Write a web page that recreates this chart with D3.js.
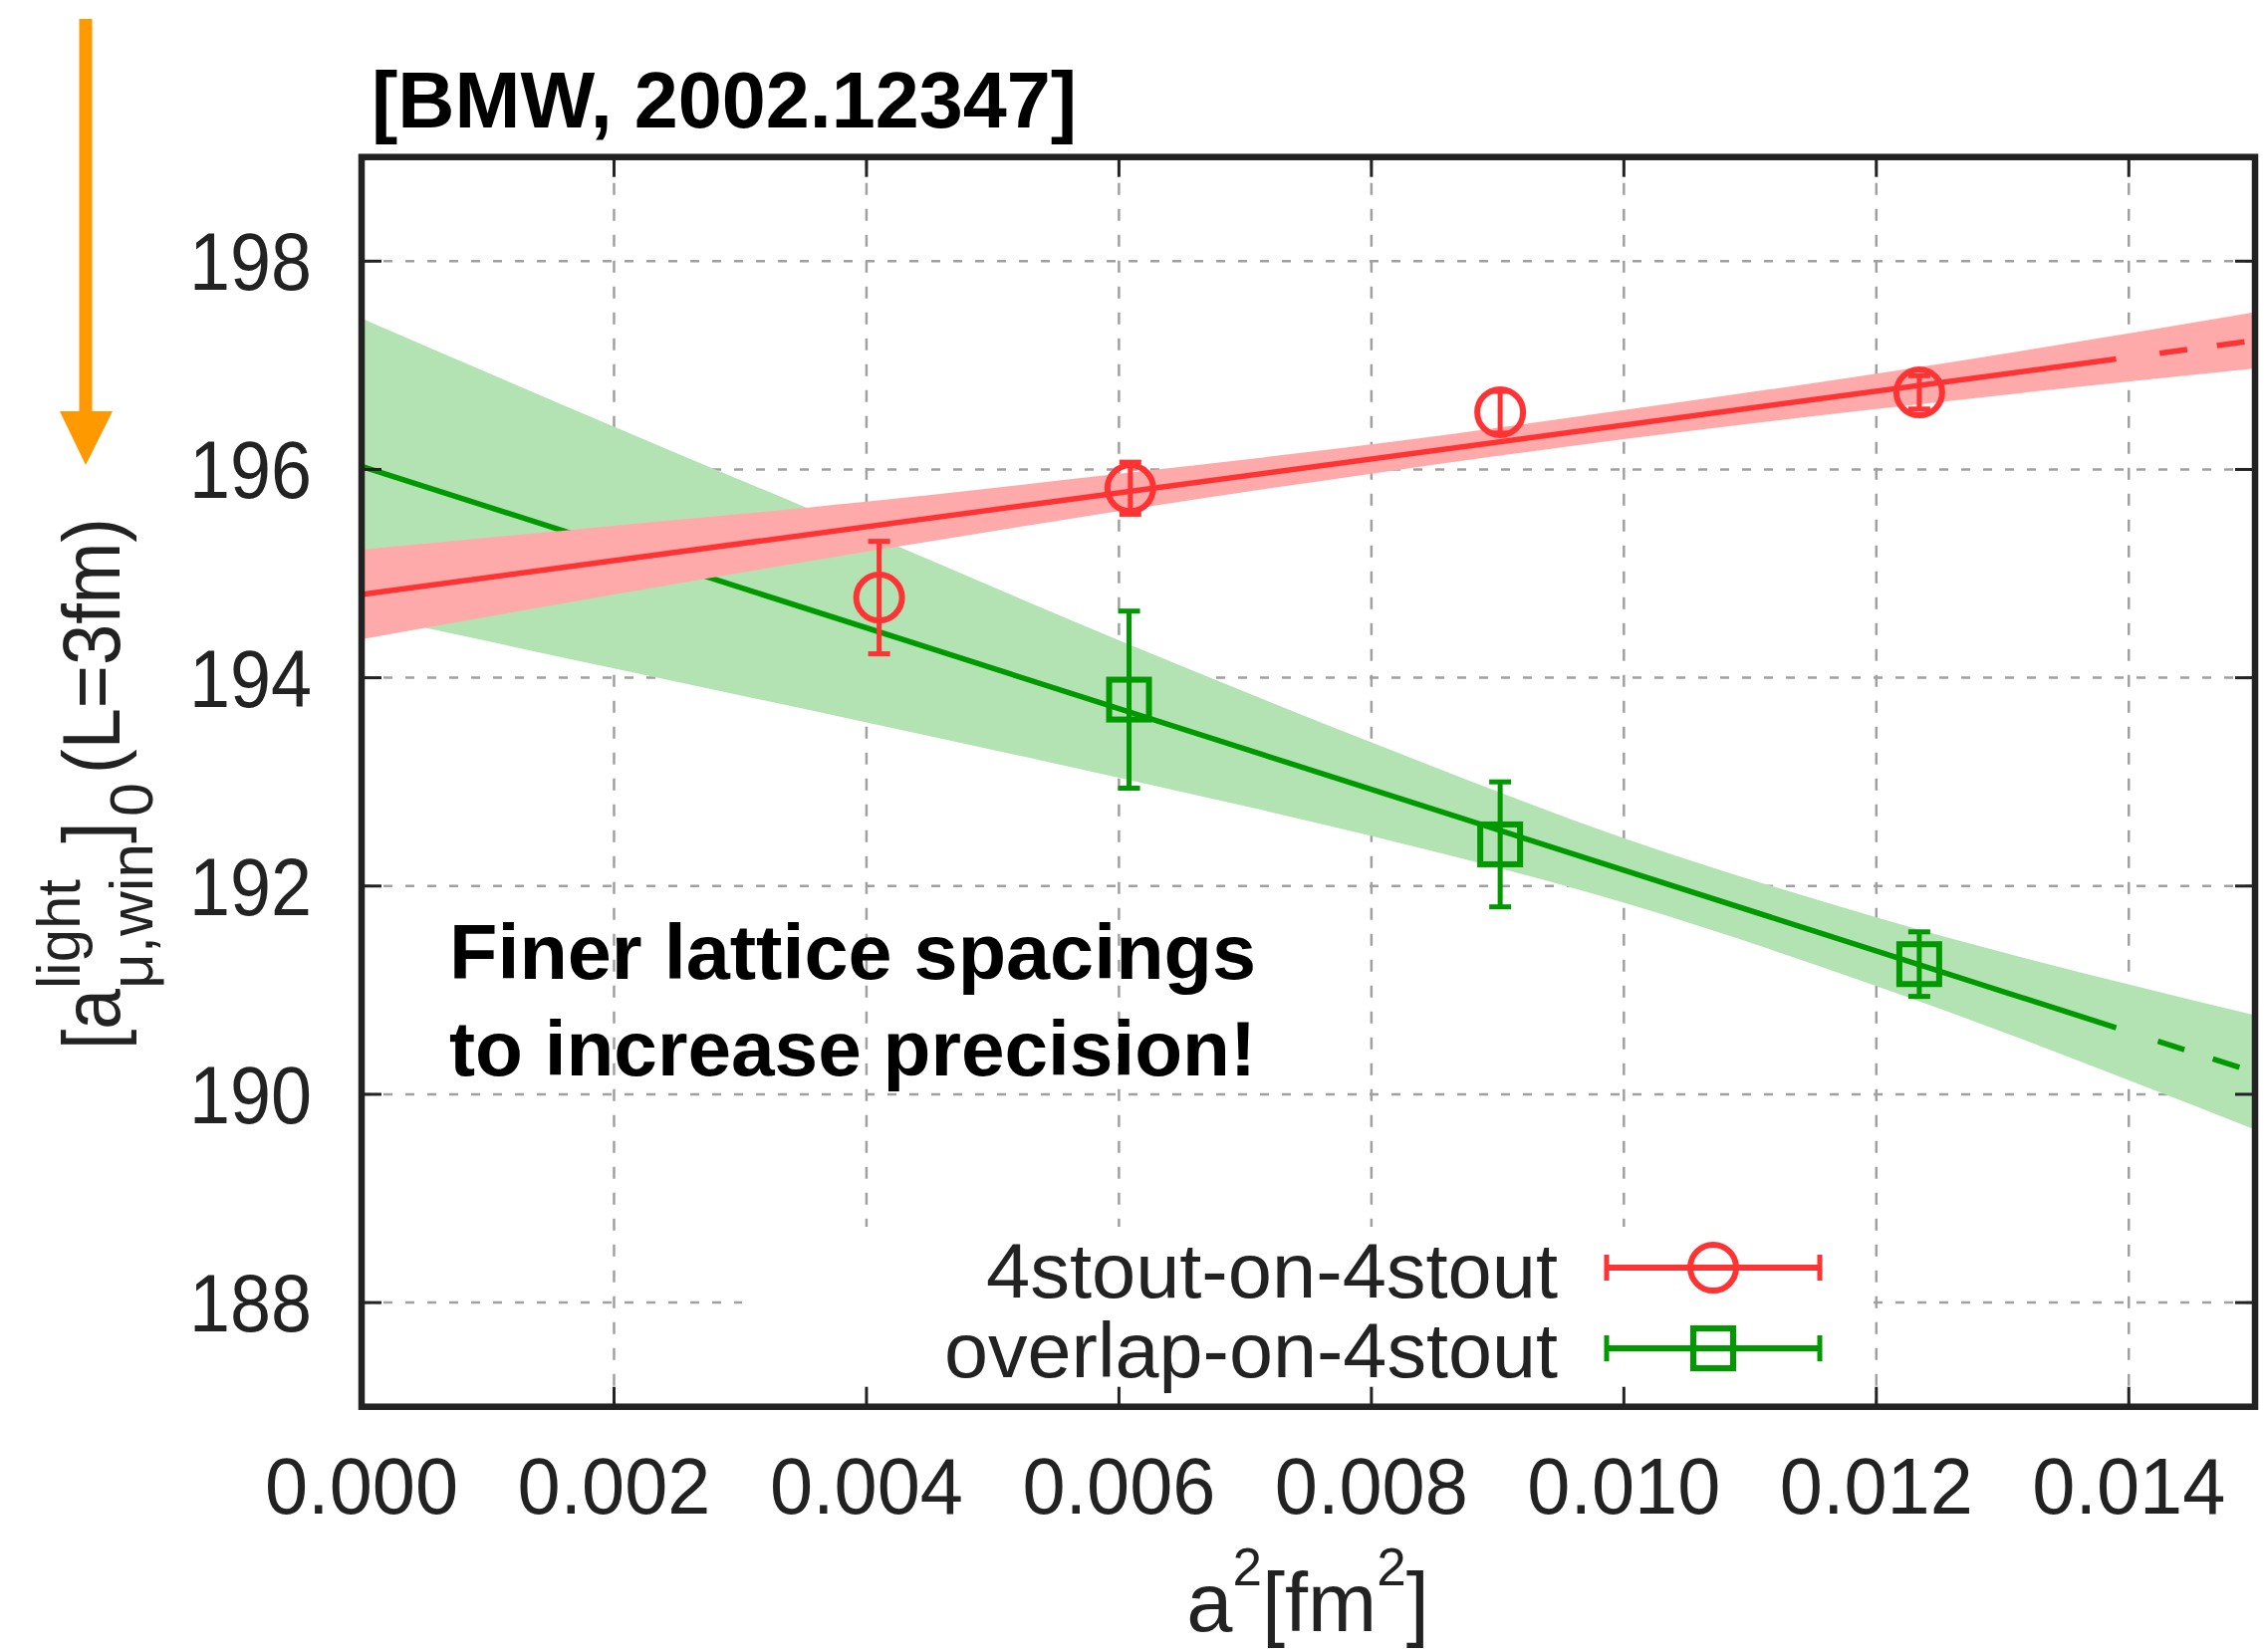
<!DOCTYPE html>
<html>
<head>
<meta charset="utf-8">
<script src="https://cdn.jsdelivr.net/npm/d3@7"></script>
<style>
  body { margin: 0; background: #fff; }
  text { font-family: "Liberation Sans", Arial, Helvetica, sans-serif; }
</style>
</head>
<body>
<div id="chart"></div>
<script>
// ---- values ----
const aSq4stout = [0.0041, 0.00609, 0.00902, 0.01234];
const val4stout = [194.77, 195.82, 196.55, 196.74];
const err4stout = [0.54, 0.25, 0.20, 0.16];

const aSqOverlap = [0.00608, 0.00902, 0.01234];
const valOverlap = [193.79, 192.40, 191.25];
const errOverlap = [0.85, 0.60, 0.31];

// fit lines: solid up to the coarsest lattice, dashed beyond
const fitX = [0, 0.0139, 0.015];
const fit4stout = [194.80, 197.06, 197.24];
const fitOverlap = [196.03, 190.64, 190.21];

// fit error bands
const bandX = [0, 0.002, 0.004, 0.006, 0.008, 0.010, 0.012, 0.015];
const band4stoutLo = [194.37, 194.80, 195.21, 195.60, 195.96, 196.29, 196.58, 196.97];
const band4stoutHi = [195.23, 195.46, 195.69, 195.96, 196.24, 196.57, 196.92, 197.51];
const bandOverlapLo = [194.61, 194.09, 193.57, 193.04, 192.48, 191.84, 191.04, 189.66];
const bandOverlapHi = [197.45, 196.41, 195.39, 194.36, 193.38, 192.46, 191.70, 190.76];

const xTicks = [0.000, 0.002, 0.004, 0.006, 0.008, 0.010, 0.012, 0.014];
const yTicks = [188, 190, 192, 194, 196, 198];
const seriesNames = ["4stout-on-4stout", "overlap-on-4stout"];

// ---- layout ----
const W = 2273, H = 1659;
const pL = 363, pR = 2264, pT = 157.7, pB = 1412.7;
const red = "#ff3333", redBand = "#ffaaaa";
const green = "#009900", greenBand = "#b3e2b3";
const ink = "#222";

const svg = d3.select("#chart").append("svg")
    .attr("width", W)
    .attr("height", H);

svg.append("rect").attr("width", W).attr("height", H).attr("fill", "#fff");

const x = d3.scaleLinear().domain([0, 0.015]).range([pL, pR]);
const y = d3.scaleLinear().domain([187, 199]).range([pB, pT]);

// grid
svg.append("g").selectAll("line").data(yTicks).join("line")
    .attr("x1", pL).attr("x2", pR)
    .attr("y1", d => y(d)).attr("y2", d => y(d))
    .attr("stroke", "#a0a0a0").attr("stroke-width", 2.5)
    .attr("stroke-dasharray", "9,13");
svg.append("g").selectAll("line").data(xTicks.slice(1)).join("line")
    .attr("x1", d => x(d)).attr("x2", d => x(d))
    .attr("y1", pT).attr("y2", pB)
    .attr("stroke", "#a0a0a0").attr("stroke-width", 2.5)
    .attr("stroke-dasharray", "12,14");

// bands and fit lines (green first, red on top)
const area = d3.area()
    .x(d => x(d[0])).y0(d => y(d[1])).y1(d => y(d[2]))
    .curve(d3.curveMonotoneX);
const line = d3.line().x(d => x(d[0])).y(d => y(d[1]));

function drawFit(lo, hi, fit, bandColor, color) {
    svg.append("path")
        .datum(bandX.map((v, i) => [v, lo[i], hi[i]]))
        .attr("d", area)
        .attr("fill", bandColor);
    const pts = fitX.map((v, i) => [v, fit[i]]);
    svg.append("path").datum(pts.slice(0, 2)).attr("d", line)
        .attr("fill", "none").attr("stroke", color).attr("stroke-width", 5.5);
    svg.append("path").datum(pts.slice(1)).attr("d", line)
        .attr("fill", "none").attr("stroke", color).attr("stroke-width", 5.5)
        .attr("stroke-dasharray", "0,44,28,30,28,30");
}
drawFit(bandOverlapLo, bandOverlapHi, fitOverlap, greenBand, green);
drawFit(band4stoutLo, band4stoutHi, fit4stout, redBand, red);

// legend background
svg.append("rect")
    .attr("x", 745).attr("y", 1232)
    .attr("width", 1130).attr("height", pB - 1232)
    .attr("fill", "#fff");

// data points with error bars
function marker(g, cx, cy, shape, color) {
    if (shape === "circle") {
        g.append("circle").attr("cx", cx).attr("cy", cy).attr("r", 23)
            .attr("fill", "none").attr("stroke", color).attr("stroke-width", 6);
    } else {
        g.append("rect").attr("x", cx - 20).attr("y", cy - 20)
            .attr("width", 40).attr("height", 40)
            .attr("fill", "none").attr("stroke", color).attr("stroke-width", 6);
    }
}
function drawPoints(xs, vs, es, shape, color) {
    const g = svg.append("g");
    xs.forEach((a, i) => {
        const cx = x(a), y0 = y(vs[i] - es[i]), y1 = y(vs[i] + es[i]);
        g.append("line").attr("x1", cx).attr("x2", cx).attr("y1", y0).attr("y2", y1)
            .attr("stroke", color).attr("stroke-width", 5);
        [y0, y1].forEach(yy => g.append("line")
            .attr("x1", cx - 11).attr("x2", cx + 11).attr("y1", yy).attr("y2", yy)
            .attr("stroke", color).attr("stroke-width", 5));
        marker(g, cx, y(vs[i]), shape, color);
    });
}
drawPoints(aSq4stout, val4stout, err4stout, "circle", red);
drawPoints(aSqOverlap, valOverlap, errOverlap, "square", green);

// legend
const legendRows = [
    { name: seriesNames[0], shape: "circle", color: red, cy: 1273, base: 1303, len: 574 },
    { name: seriesNames[1], shape: "square", color: green, cy: 1354, base: 1383, len: 616 }
];
legendRows.forEach(r => {
    const g = svg.append("g");
    g.append("text").attr("x", 1564 - r.len).attr("y", r.base)
        .attr("font-size", 78).attr("fill", ink)
        .attr("textLength", r.len).attr("lengthAdjust", "spacingAndGlyphs")
        .text(r.name);
    g.append("line").attr("x1", 1613).attr("x2", 1827).attr("y1", r.cy).attr("y2", r.cy)
        .attr("stroke", r.color).attr("stroke-width", 6);
    [1613, 1827].forEach(xx => g.append("line")
        .attr("x1", xx).attr("x2", xx).attr("y1", r.cy - 13).attr("y2", r.cy + 13)
        .attr("stroke", r.color).attr("stroke-width", 5));
    marker(g, 1720, r.cy, r.shape, r.color);
});

// ticks (inward, mirrored) and frame
const tk = svg.append("g").attr("stroke", ink).attr("stroke-width", 3);
yTicks.forEach(v => {
    tk.append("line").attr("x1", pL).attr("x2", pL + 20).attr("y1", y(v)).attr("y2", y(v));
    tk.append("line").attr("x1", pR - 20).attr("x2", pR).attr("y1", y(v)).attr("y2", y(v));
});
xTicks.forEach(v => {
    tk.append("line").attr("x1", x(v)).attr("x2", x(v)).attr("y1", pB).attr("y2", pB - 20);
    tk.append("line").attr("x1", x(v)).attr("x2", x(v)).attr("y1", pT).attr("y2", pT + 20);
});
svg.append("rect")
    .attr("x", pL).attr("y", pT)
    .attr("width", pR - pL).attr("height", pB - pT)
    .attr("fill", "none").attr("stroke", ink).attr("stroke-width", 6.5);

// tick labels
svg.append("g").selectAll("text").data(yTicks).join("text")
    .attr("x", 313 - 123).attr("y", d => y(d) + 29)
    .attr("font-size", 81).attr("fill", ink)
    .attr("textLength", 123).attr("lengthAdjust", "spacingAndGlyphs")
    .text(d => d);
svg.append("g").selectAll("text").data(xTicks).join("text")
    .attr("x", d => x(d) - 97).attr("y", 1520)
    .attr("font-size", 80).attr("fill", ink)
    .attr("textLength", 194).attr("lengthAdjust", "spacingAndGlyphs")
    .text(d => d3.format(".3f")(d));

// x axis label
const xl = svg.append("text")
    .attr("x", 1313).attr("y", 1638)
    .attr("text-anchor", "middle").attr("font-size", 83).attr("fill", ink);
xl.append("tspan").text("a");
xl.append("tspan").attr("dy", -46).attr("font-size", 53).text("2");
xl.append("tspan").attr("dy", 46).text("[fm");
xl.append("tspan").attr("dy", -46).attr("font-size", 53).text("2");
xl.append("tspan").attr("dy", 46).text("]");

// y axis label, rotated; pieces placed along the text direction
const yl = svg.append("g").attr("transform", "translate(120,0) rotate(-90)")
    .attr("fill", ink);
const ylPieces = [
    { t: "[a", x: -1054, len: 61, fs: 81, dy: 0 },
    { t: "light", x: -993, len: 110, fs: 62, dy: -40 },
    { t: "\u03bc,win", x: -993, len: 146, fs: 62, dy: 33 },
    { t: "]", x: -847, len: 22, fs: 81, dy: 0 },
    { t: "0", x: -820, len: 34, fs: 62, dy: 33 },
    { t: "(L=3fm)", x: -777, len: 257, fs: 81, dy: 0 }
];
ylPieces.forEach(p => yl.append("text")
    .attr("x", p.x).attr("y", p.dy)
    .attr("font-size", p.fs)
    .attr("textLength", p.len).attr("lengthAdjust", "spacingAndGlyphs")
    .text(p.t));

// title
svg.append("text")
    .attr("x", 373).attr("y", 128)
    .attr("font-size", 79).attr("font-weight", "bold").attr("fill", "#000")
    .attr("textLength", 708).attr("lengthAdjust", "spacingAndGlyphs")
    .text("[BMW, 2002.12347]");

// annotation
["Finer lattice spacings", "to increase precision!"].forEach((s, i) =>
    svg.append("text")
        .attr("x", 451).attr("y", 983 + i * 97)
        .attr("font-size", 78).attr("font-weight", "bold").attr("fill", "#000")
        .attr("textLength", 810).attr("lengthAdjust", "spacingAndGlyphs")
        .text(s));

// orange arrow on the left
svg.append("line")
    .attr("x1", 86).attr("x2", 86).attr("y1", 19).attr("y2", 420)
    .attr("stroke", "#ff9900").attr("stroke-width", 13);
svg.append("path")
    .attr("d", "M60,413 L113,413 L86,467 Z")
    .attr("fill", "#ff9900");
</script>
</body>
</html>
